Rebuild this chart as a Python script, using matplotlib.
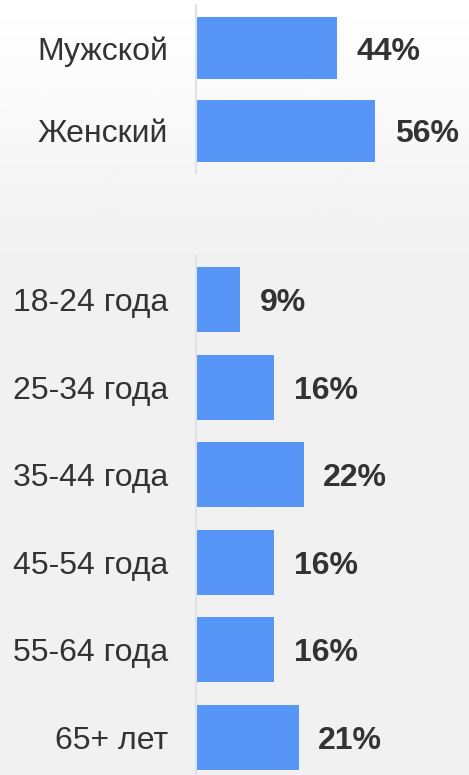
import matplotlib.pyplot as plt
import numpy as np

# данные
gender_labels = ['Мужской', 'Женский']
gender_values = [44, 56]

age_labels = ['18-24 года', '25-34 года', '35-44 года', '45-54 года', '55-64 года', '65+ лет']
age_values = [9, 16, 22, 16, 16, 21]

bar_color = '#5795f7'
text_color = '#333333'
axis_color = '#dfe2e6'

plt.rcParams['font.family'] = ['Liberation Sans', 'DejaVu Sans']

fig = plt.figure(figsize=(4.69, 7.75), dpi=100)

# фон: от белого к светло-серому
bg = fig.add_axes([0, 0, 1, 1], zorder=-10)
rows = np.linspace(0, 1, 400)
shade = np.clip(1.0 - (rows / 0.33) * (1.0 - 0.945), 0.945, 1.0)
bg.imshow(np.repeat(shade[:, None], 2, axis=1), cmap='gray', vmin=0, vmax=1,
          aspect='auto', extent=[0, 1, 0, 1], origin='upper')
bg.set_axis_off()


def draw_panel(rect, labels, values, xmax, ylim, height):
    ax = fig.add_axes(rect)
    ax.patch.set_alpha(0)
    pos = np.arange(len(labels))
    ax.barh(pos, values, height=height, color=bar_color)
    ax.set_xlim(0, xmax)
    ax.set_ylim(*ylim)
    ax.set_yticks(pos)
    ax.set_yticklabels(labels, fontsize=23, color=text_color)
    ax.tick_params(axis='y', length=0, pad=20)
    ax.set_xticks([])
    for s in ['top', 'right', 'bottom']:
        ax.spines[s].set_visible(False)
    ax.spines['left'].set_color(axis_color)
    ax.spines['left'].set_linewidth(1.5)
    for p, v in zip(pos, values):
        ax.annotate(f'{v}%', (v, p), xytext=(14, -2.5), textcoords='offset points',
                    va='center', ha='left', fontsize=23, fontweight='bold',
                    color=text_color)
    return ax


W, H = 469, 775
left = 196 / W
width = 1 - left

# пол
draw_panel([left, 1 - 173 / H, width, 168 / H], gender_labels, gender_values,
           width * W / 3.2, (1.51, -0.52), 0.75)

# возраст
draw_panel([left, 0, width, (H - 256) / H], age_labels, age_values,
           width * W / 4.89, (5.43, -0.5), 0.74)

fig.savefig('out.png', dpi=100)
